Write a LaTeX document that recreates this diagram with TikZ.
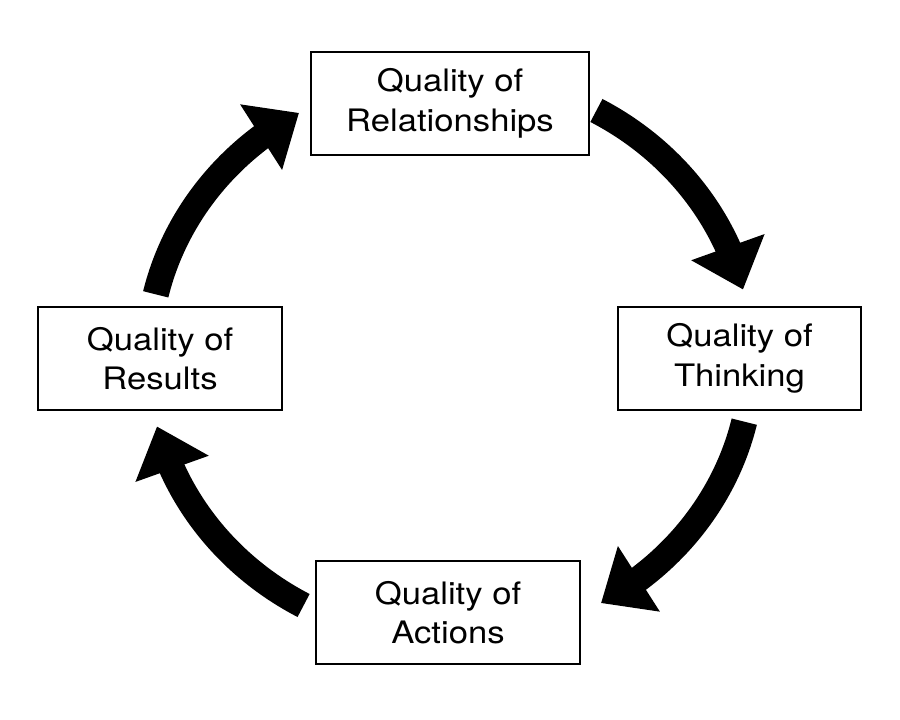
\documentclass[tikz,border=0pt]{standalone}
\usepackage{fontspec}
\setmainfont{TeX Gyre Heros}[FakeStretch=1.12]
\usetikzlibrary{arrows.meta,bending}

\begin{document}
\begin{tikzpicture}[
box/.style={draw, line width=1.1pt, minimum height=2.06cm, align=center, inner sep=0pt, font=\fontsize{17.6}{22.5}\selectfont},
cyclearrow/.style={line width=0.52cm, -{Triangle[width=1.5cm,length=0.9cm,flex]}},
]
\useasboundingbox (0,0) rectangle (18,14.4);

\node (rel) [box, minimum width=5.56cm] at (9,12.33) {Quality of\\Relationships};
\node (think) [box, minimum width=4.86cm] at (14.79,7.23) {Quality of\\Thinking};
\node (res) [box, minimum width=4.88cm] at (3.2,7.23) {Quality of\\Results};
\node (act) [box, minimum width=5.28cm] at (8.96,2.15) {Quality of\\Actions};

\coordinate (hub) at (9,7.24);
\foreach \s in {61,-13,241,167}
  \draw[cyclearrow] ([shift={({6.04*cos(\s)},{5.66*sin(\s)})}]hub) arc[start angle=\s, end angle=\s-47, x radius=6.04, y radius=5.66];

\end{tikzpicture}
\end{document}
